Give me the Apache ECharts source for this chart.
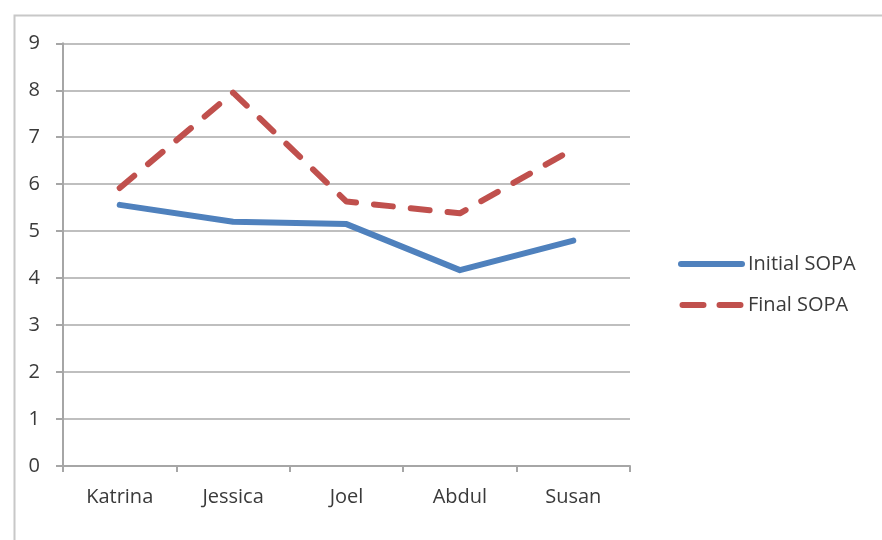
<!DOCTYPE html>
<html>
<head>
<meta charset="utf-8">
<style>
  html, body { margin: 0; padding: 0; background: #ffffff; }
  #chart { width: 882px; height: 540px; }
</style>
<script src="https://cdn.jsdelivr.net/npm/echarts@6/dist/echarts.min.js"></script>
</head>
<body>
<div id="chart"></div>
<script>
// Students and their SOPA scores
const students = ['Katrina', 'Jessica', 'Joel', 'Abdul', 'Susan'];
const initialSopa = [5.56, 5.2, 5.15, 4.17, 4.8];
const finalSopa = [5.92, 7.95, 5.63, 5.38, 6.75];
const yTicks = [0, 1, 2, 3, 4, 5, 6, 7, 8, 9];

const labelFont = '"Open Sans", "DejaVu Sans", sans-serif';
const textColor = '#3a3a3a';

// legend keys: one long bar for the solid line, two bars for the dashed one
const solidKey = 'path://M3,0H64A3,3 0 0 1 64,6H3A3,3 0 0 1 3,0Z';
const dashedKey = 'path://M3,0H24A3,3 0 0 1 24,6H3A3,3 0 0 1 3,0Z M40,0H61A3,3 0 0 1 61,6H40A3,3 0 0 1 40,0Z';

const chart = echarts.init(document.getElementById('chart'), null, { renderer: 'canvas' });

chart.setOption({
  backgroundColor: '#ffffff',
  animation: false,
  graphic: [
    {
      // chart frame (runs past the right and bottom edges)
      type: 'rect',
      left: 12, top: 13,
      shape: { width: 1000, height: 700 },
      style: { fill: 'none', stroke: '#c8c8c8', lineWidth: 2 },
      silent: true,
      z: -1
    }
  ],
  grid: {
    left: 63,
    top: 43.3,
    right: 252,
    bottom: 74,
    containLabel: false
  },
  legend: {
    orient: 'vertical',
    left: 673,
    top: 249,
    itemWidth: 67,
    itemHeight: 6,
    itemGap: 21,
    textStyle: { fontFamily: labelFont, fontSize: 20, color: textColor, padding: [0, 0, 0, -2] },
    data: [
      { name: 'Initial SOPA', icon: solidKey },
      { name: 'Final SOPA', icon: dashedKey }
    ]
  },
  xAxis: {
    type: 'category',
    data: students,
    boundaryGap: true,
    axisLine: { show: true, lineStyle: { color: '#a6a6a6', width: 2 } },
    axisTick: { show: true, length: 6, lineStyle: { color: '#a6a6a6', width: 2 } },
    axisLabel: { fontFamily: labelFont, fontSize: 20, color: textColor, margin: 21 },
    splitLine: { show: false }
  },
  yAxis: {
    type: 'value',
    min: yTicks[0],
    max: yTicks[yTicks.length - 1],
    interval: 1,
    axisLine: { show: true, lineStyle: { color: '#a6a6a6', width: 2 } },
    axisTick: { show: true, length: 7, lineStyle: { color: '#a6a6a6', width: 2 } },
    axisLabel: { fontFamily: labelFont, fontSize: 20, color: textColor, margin: 23 },
    splitLine: { show: true, lineStyle: { color: '#bfbfbf', width: 2 } }
  },
  series: [
    {
      name: 'Initial SOPA',
      type: 'line',
      data: initialSopa,
      symbol: 'none',
      color: '#4f81bd',
      lineStyle: { color: '#4f81bd', width: 6, cap: 'round', join: 'round' },
      z: 3
    },
    {
      name: 'Final SOPA',
      type: 'line',
      data: finalSopa,
      symbol: 'none',
      color: '#c0504d',
      lineStyle: { color: '#c0504d', width: 6, type: [19, 18], cap: 'round', join: 'round' },
      z: 3
    }
  ]
});
</script>
</body>
</html>
